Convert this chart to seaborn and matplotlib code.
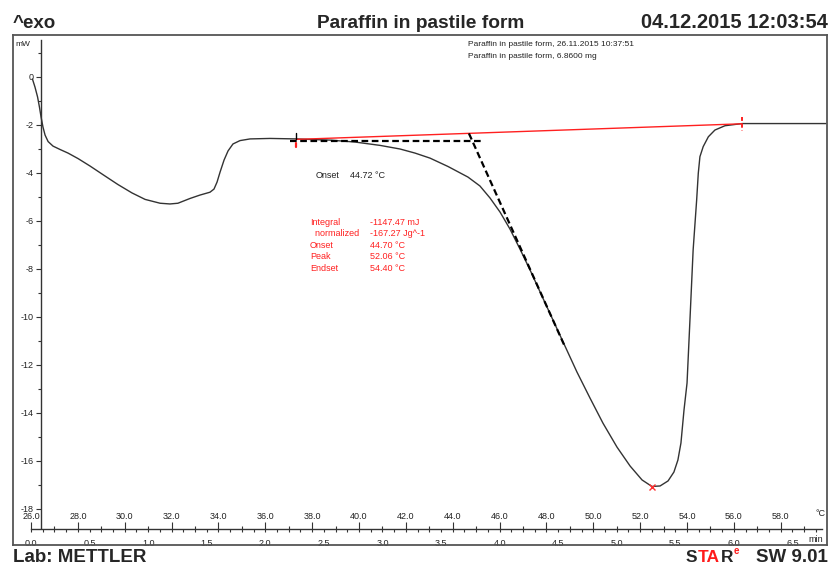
import numpy as np
import pandas as pd
import matplotlib
matplotlib.use("Agg")
import matplotlib.pyplot as plt
import seaborn as sns
from matplotlib.ticker import MultipleLocator, FixedLocator, FormatStrFormatter

# DSC curve (sample temperature in °C, heat flow in mW)
temp_c = [26.06, 26.17, 26.28, 26.36, 26.43, 26.51, 26.60, 26.73, 26.94, 27.24,
          27.58, 28.01, 28.52, 29.12, 29.71, 30.31, 30.87, 31.51, 31.93, 32.27,
          32.79, 33.21, 33.64, 33.81, 33.94, 34.07, 34.24, 34.41, 34.62, 34.92,
          35.35, 36.20, 37.31, 38.76, 39.83, 40.90, 41.75, 42.39, 43.03, 43.80,
          44.65, 45.16, 45.59, 46.02, 46.44, 46.87, 47.30, 47.81, 48.28, 48.79,
          49.30, 49.86, 50.41, 51.01, 51.57, 52.08, 52.50, 52.85, 53.19, 53.44,
          53.61, 53.74, 53.87, 54.00, 54.13, 54.26, 54.41, 54.48, 54.55, 54.69,
          54.91, 55.19, 55.62, 56.19, 56.35, 59.93]
heat_flow_mw = [-0.08, -0.42, -0.83, -1.25, -1.67, -2.08, -2.42, -2.69, -2.88, -3.02,
                -3.17, -3.40, -3.71, -4.10, -4.48, -4.83, -5.10, -5.26, -5.29, -5.26,
                -5.06, -4.92, -4.80, -4.67, -4.38, -3.96, -3.46, -3.08, -2.79, -2.65,
                -2.58, -2.56, -2.58, -2.63, -2.71, -2.85, -3.00, -3.17, -3.38, -3.73,
                -4.17, -4.54, -5.04, -5.63, -6.33, -7.17, -8.04, -9.13, -10.13, -11.21,
                -12.29, -13.38, -14.42, -15.42, -16.21, -16.79, -17.06, -17.04, -16.83, -16.46,
                -15.96, -15.25, -13.88, -12.75, -10.00, -7.21, -5.13, -4.01, -3.32, -2.90,
                -2.49, -2.21, -2.03, -1.96, -1.94, -1.94]

# evaluation lines
baseline_t = [37.31, 56.35]
baseline_mw = [-2.60, -1.95]
onset_flat_t = [37.06, 45.23]
onset_flat_mw = [-2.65, -2.65]
tangent_t = [44.69, 48.79]
tangent_mw = [-2.35, -11.24]
peak_t, peak_mw = 52.50, -17.10

result_names = ["Integral", "  normalized", "Onset", "Peak", "Endset"]
result_values = ["-1147.47 mJ", "-167.27 Jg^-1", "44.70 °C", "52.06 °C", "54.40 °C"]

heating_rate = 5.0   # K/min, start at 26 °C
start_temp = 26.0

sns.set_style("white")
plt.rcParams["font.family"] = ["Liberation Sans", "DejaVu Sans"]
plt.rcParams["axes.unicode_minus"] = False

W, H = 830, 565
fig = plt.figure(figsize=(8.3, 5.65), dpi=100)

def fx(px):
    return px / W

def fy(py):
    return 1 - py / H

# pixel scale of the print-out
px_c, px_mw = 23.43, 24.0

def tx(px):
    return start_temp + (px - 31) / px_c

def my(py):
    return (77 - py) / px_mw

ax = fig.add_axes([fx(13), fy(545), fx(827) - fx(13), fy(35) - fy(545)])
ax.set_xlim(tx(13), tx(827))
ax.set_ylim(my(545), my(35))
ax.set_xticks([])
ax.set_yticks([])
for s in ax.spines.values():
    s.set_color("#555555")
    s.set_linewidth(1.3)

curve = pd.DataFrame({"T": temp_c, "mW": heat_flow_mw})
sns.lineplot(data=curve, x="T", y="mW", ax=ax, color="#333333", lw=1.0,
             sort=False, estimator=None)
ax.set_xlabel("")
ax.set_ylabel("")

ax.plot(baseline_t, baseline_mw, color="#ff2020", lw=1.0)
ax.plot(onset_flat_t, onset_flat_mw, color="black", lw=1.6, ls=(0, (3, 1.6)))
ax.plot(tangent_t, tangent_mw, color="black", lw=1.6, ls=(0, (3, 1.6)))
ax.plot(peak_t, peak_mw, marker="x", color="#ff3030", ms=5, mew=1.0)
# integration limits
ax.plot([baseline_t[0]] * 2, [baseline_mw[0] + 0.25, baseline_mw[0]], color="black", lw=1.0)
ax.plot([baseline_t[0]] * 2, [baseline_mw[0] - 0.15, baseline_mw[0] - 0.3], color="#ff2020", lw=1.6)
ax.plot([baseline_t[1]] * 2, [baseline_mw[1] + 0.3, baseline_mw[1] - 0.3], color="#ff2020",
        lw=1.4, ls=(0, (2, 1.5)))

# y axis (mW)
yax = ax.secondary_yaxis((41 - 13) / 814)
yax.spines["left"].set_bounds(my(528), my(40))
yax.spines["left"].set_color("#333333")
yax.spines["left"].set_linewidth(1.0)
yax.yaxis.set_major_locator(MultipleLocator(2))
yax.yaxis.set_minor_locator(FixedLocator(list(range(-17, 2, 2))))
yax.tick_params(which="major", length=3.5, width=0.8, labelsize=6.5, pad=1.5,
                color="#333333", labelcolor="#222222")
yax.tick_params(which="minor", length=2.5, width=0.8, color="#333333")

# temperature ruler
ruler = (545 - 529) / 510
tax = ax.secondary_xaxis(ruler)
tax.set_alignment("top")
tax.spines["top"].set_bounds(start_temp, tx(822))
tax.spines["top"].set_color("#333333")
tax.spines["top"].set_linewidth(1.0)
tax.xaxis.set_major_locator(MultipleLocator(2))
tax.xaxis.set_minor_locator(MultipleLocator(1))
tax.xaxis.set_major_formatter(FormatStrFormatter("%.1f"))
tax.tick_params(which="major", length=4.8, width=0.8, labelsize=6.5, pad=1.0,
                color="#333333", labelcolor="#222222")
tax.tick_params(which="minor", length=2.4, width=0.8, color="#333333")

# time ruler
tmx = ax.secondary_xaxis(ruler, functions=(lambda T: (T - start_temp) / heating_rate,
                                           lambda t: start_temp + heating_rate * t))
tmx.set_alignment("bottom")
tmx.spines["bottom"].set_visible(False)
tmx.xaxis.set_major_locator(MultipleLocator(0.5))
tmx.xaxis.set_minor_locator(FixedLocator(list(np.arange(0, 6.75, 0.1))))
tmx.xaxis.set_major_formatter(FormatStrFormatter("%.1f"))
tmx.tick_params(which="major", length=2.4, width=0.8, labelsize=6.5, pad=5.0,
                color="#333333", labelcolor="#222222")
tmx.tick_params(which="minor", length=2.4, width=0.8, color="#333333")

fig.text(fx(820), fy(514), "°C", ha="center", va="center", fontsize=6.5, color="#222222")
fig.text(fx(816), fy(540), "min", ha="center", va="center", fontsize=6.5, color="#222222")
fig.text(fx(15), fy(44), "mW", ha="left", va="center", fontsize=6, color="#222222")

# annotations
ax.text(tx(468), my(45), "Paraffin in pastile form, 26.11.2015 10:37:51", fontsize=6,
        va="center", color="#222222")
ax.text(tx(468), my(57), "Paraffin in pastile form, 6.8600 mg", fontsize=6,
        va="center", color="#222222")
ax.text(tx(316), my(176), "Onset", fontsize=6.5, va="center", color="#222222")
ax.text(tx(350), my(176), "44.72 °C", fontsize=6.5, va="center", color="#222222")
for i, (name, val) in enumerate(zip(result_names, result_values)):
    yy = my(222.5 + i * 11.4)
    ax.text(tx(310), yy, name, fontsize=6.5, va="center", color="#ff2020")
    ax.text(tx(370), yy, val, fontsize=6.5, va="center", color="#ff2020")

# header and footer
fig.text(fx(13), fy(23), "^exo", ha="left", va="center", fontsize=13.5, fontweight="bold")
fig.text(fx(421), fy(23), "Paraffin in pastile form", ha="center", va="center",
         fontsize=13.8, fontweight="bold")
fig.text(fx(828), fy(23), "04.12.2015 12:03:54", ha="right", va="center",
         fontsize=14.5, fontweight="bold")
fig.text(fx(13), fy(557), "Lab: METTLER", ha="left", va="center", fontsize=13.5,
         fontweight="bold")
fig.text(fx(686), fy(557), "S", ha="left", va="center", fontsize=12.5, fontweight="bold")
fig.text(fx(698), fy(557), "TA", ha="left", va="center", fontsize=12.5, fontweight="bold",
         color="#ff1a1a")
fig.text(fx(721), fy(557), "R", ha="left", va="center", fontsize=12.5, fontweight="bold")
fig.text(fx(734), fy(551), "e", ha="left", va="center", fontsize=7, fontweight="bold",
         color="#ff1a1a")
fig.text(fx(828), fy(557), "SW 9.01", ha="right", va="center", fontsize=13.5,
         fontweight="bold")

fig.savefig("out.png", dpi=100)
